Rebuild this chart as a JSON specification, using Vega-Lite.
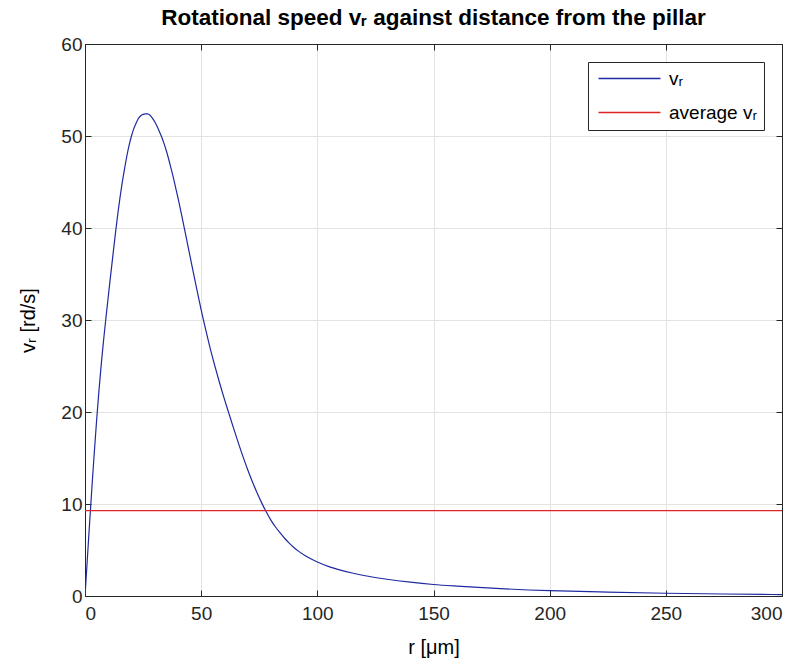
{
  "$schema": "https://vega.github.io/schema/vega-lite/v6.json",
  "width": 697,
  "height": 552,
  "autosize": {"type": "none"},
  "padding": {"left": 85, "top": 44, "right": 21, "bottom": 72},
  "background": "white",
  "title": {
    "text": "Rotational speed vᵣ against distance from the pillar",
    "font": "Liberation Sans",
    "fontSize": 22.5,
    "fontWeight": "bold",
    "color": "#000000",
    "offset": 6
  },
  "data": {
    "values": [
      {"r": 0, "v": 0, "s": "vᵣ"},
      {"r": 1, "v": 4.0, "s": "vᵣ"},
      {"r": 2, "v": 8.0, "s": "vᵣ"},
      {"r": 3, "v": 11.9, "s": "vᵣ"},
      {"r": 4, "v": 15.6, "s": "vᵣ"},
      {"r": 5, "v": 19.1, "s": "vᵣ"},
      {"r": 6, "v": 22.3, "s": "vᵣ"},
      {"r": 7, "v": 25.2, "s": "vᵣ"},
      {"r": 8, "v": 27.8, "s": "vᵣ"},
      {"r": 9, "v": 30.2, "s": "vᵣ"},
      {"r": 10, "v": 32.5, "s": "vᵣ"},
      {"r": 11, "v": 34.8, "s": "vᵣ"},
      {"r": 12, "v": 37.0, "s": "vᵣ"},
      {"r": 13, "v": 39.2, "s": "vᵣ"},
      {"r": 14, "v": 41.3, "s": "vᵣ"},
      {"r": 15, "v": 43.2, "s": "vᵣ"},
      {"r": 16, "v": 44.9, "s": "vᵣ"},
      {"r": 17, "v": 46.4, "s": "vᵣ"},
      {"r": 18, "v": 47.8, "s": "vᵣ"},
      {"r": 19, "v": 49.0, "s": "vᵣ"},
      {"r": 20, "v": 50.0, "s": "vᵣ"},
      {"r": 21, "v": 50.8, "s": "vᵣ"},
      {"r": 22, "v": 51.4, "s": "vᵣ"},
      {"r": 23, "v": 51.9, "s": "vᵣ"},
      {"r": 24, "v": 52.2, "s": "vᵣ"},
      {"r": 25, "v": 52.35, "s": "vᵣ"},
      {"r": 26, "v": 52.4, "s": "vᵣ"},
      {"r": 27, "v": 52.4, "s": "vᵣ"},
      {"r": 28, "v": 52.25, "s": "vᵣ"},
      {"r": 29, "v": 51.95, "s": "vᵣ"},
      {"r": 30, "v": 51.55, "s": "vᵣ"},
      {"r": 31, "v": 51.05, "s": "vᵣ"},
      {"r": 32, "v": 50.5, "s": "vᵣ"},
      {"r": 33, "v": 49.9, "s": "vᵣ"},
      {"r": 34, "v": 49.2, "s": "vᵣ"},
      {"r": 35, "v": 48.4, "s": "vᵣ"},
      {"r": 36, "v": 47.5, "s": "vᵣ"},
      {"r": 37, "v": 46.5, "s": "vᵣ"},
      {"r": 38, "v": 45.5, "s": "vᵣ"},
      {"r": 39, "v": 44.4, "s": "vᵣ"},
      {"r": 40, "v": 43.3, "s": "vᵣ"},
      {"r": 42, "v": 40.9, "s": "vᵣ"},
      {"r": 44, "v": 38.45, "s": "vᵣ"},
      {"r": 46, "v": 35.95, "s": "vᵣ"},
      {"r": 48, "v": 33.5, "s": "vᵣ"},
      {"r": 50, "v": 31.1, "s": "vᵣ"},
      {"r": 52, "v": 28.9, "s": "vᵣ"},
      {"r": 54, "v": 26.8, "s": "vᵣ"},
      {"r": 56, "v": 24.9, "s": "vᵣ"},
      {"r": 58, "v": 23.1, "s": "vᵣ"},
      {"r": 60, "v": 21.4, "s": "vᵣ"},
      {"r": 62, "v": 19.8, "s": "vᵣ"},
      {"r": 64, "v": 18.2, "s": "vᵣ"},
      {"r": 66, "v": 16.65, "s": "vᵣ"},
      {"r": 68, "v": 15.15, "s": "vᵣ"},
      {"r": 70, "v": 13.75, "s": "vᵣ"},
      {"r": 72, "v": 12.45, "s": "vᵣ"},
      {"r": 74, "v": 11.25, "s": "vᵣ"},
      {"r": 76, "v": 10.15, "s": "vᵣ"},
      {"r": 78, "v": 9.15, "s": "vᵣ"},
      {"r": 80, "v": 8.25, "s": "vᵣ"},
      {"r": 82, "v": 7.5, "s": "vᵣ"},
      {"r": 84, "v": 6.85, "s": "vᵣ"},
      {"r": 86, "v": 6.25, "s": "vᵣ"},
      {"r": 88, "v": 5.72, "s": "vᵣ"},
      {"r": 90, "v": 5.25, "s": "vᵣ"},
      {"r": 92, "v": 4.85, "s": "vᵣ"},
      {"r": 95, "v": 4.35, "s": "vᵣ"},
      {"r": 100, "v": 3.7, "s": "vᵣ"},
      {"r": 105, "v": 3.2, "s": "vᵣ"},
      {"r": 110, "v": 2.82, "s": "vᵣ"},
      {"r": 115, "v": 2.5, "s": "vᵣ"},
      {"r": 120, "v": 2.23, "s": "vᵣ"},
      {"r": 130, "v": 1.82, "s": "vᵣ"},
      {"r": 140, "v": 1.5, "s": "vᵣ"},
      {"r": 150, "v": 1.25, "s": "vᵣ"},
      {"r": 160, "v": 1.07, "s": "vᵣ"},
      {"r": 175, "v": 0.85, "s": "vᵣ"},
      {"r": 200, "v": 0.58, "s": "vᵣ"},
      {"r": 225, "v": 0.42, "s": "vᵣ"},
      {"r": 250, "v": 0.3, "s": "vᵣ"},
      {"r": 275, "v": 0.22, "s": "vᵣ"},
      {"r": 300, "v": 0.15, "s": "vᵣ"},
      {"r": 0, "v": 9.27, "s": "average vᵣ"},
      {"r": 300, "v": 9.27, "s": "average vᵣ"}
    ]
  },
  "layer": [
    {
      "mark": {"type": "line", "strokeWidth": 1.2, "interpolate": "monotone", "clip": true},
      "encoding": {
        "x": {
          "field": "r", "type": "quantitative",
          "scale": {"domain": [0, 300], "nice": false, "zero": false},
          "axis": {"orient": "bottom", "values": [0, 50, 100, 150, 200, 250, 300], "title": "r [μm]", "labelPadding": 14, "titlePadding": 14}
        },
        "y": {
          "field": "v", "type": "quantitative",
          "scale": {"domain": [0, 60], "nice": false},
          "axis": {"orient": "left", "values": [0, 10, 20, 30, 40, 50, 60], "title": "vᵣ [rd/s]", "labelPadding": 9, "titlePadding": 22}
        },
        "color": {
          "field": "s", "type": "nominal",
          "scale": {"domain": ["vᵣ", "average vᵣ"], "range": ["#1f2aa0", "#e02424"]},
          "legend": {
            "title": null,
            "orient": "top-right",
            "offset": 18,
            "symbolType": "M-1,0H9.33",
            "symbolSize": 144,
            "symbolStrokeWidth": 1.3,
            "labelFont": "Liberation Sans",
            "labelFontSize": 19,
            "labelColor": "#000000",
            "labelOffset": 55,
            "rowPadding": 14,
            "padding": 7,
            "fillColor": "white",
            "strokeColor": "#262626",
            "cornerRadius": 0
          }
        }
      }
    },
    {
      "mark": {"type": "point", "opacity": 0},
      "encoding": {
        "x": {
          "field": "r", "type": "quantitative",
          "scale": {"domain": [0, 300], "nice": false, "zero": false},
          "axis": {"orient": "top", "values": [0, 50, 100, 150, 200, 250, 300], "labels": false, "title": null, "grid": false}
        },
        "y": {
          "field": "v", "type": "quantitative",
          "scale": {"domain": [0, 60], "nice": false},
          "axis": {"orient": "right", "values": [0, 10, 20, 30, 40, 50, 60], "labels": false, "title": null, "grid": false}
        }
      }
    }
  ],
  "resolve": {"axis": {"x": "independent", "y": "independent"}},
  "config": {
    "view": {"stroke": "#262626", "strokeWidth": 1},
    "axis": {
      "grid": true,
      "gridColor": "#e3e3e3",
      "gridWidth": 1,
      "domainColor": "#262626",
      "domainWidth": 1,
      "tickColor": "#262626",
      "tickSize": -6,
      "tickWidth": 1,
      "labelFont": "Liberation Sans",
      "labelFontSize": 19,
      "labelColor": "#262626",
      "titleFont": "Liberation Sans",
      "titleFontSize": 20,
      "titleFontWeight": "normal",
      "titleColor": "#000000"
    }
  }
}
